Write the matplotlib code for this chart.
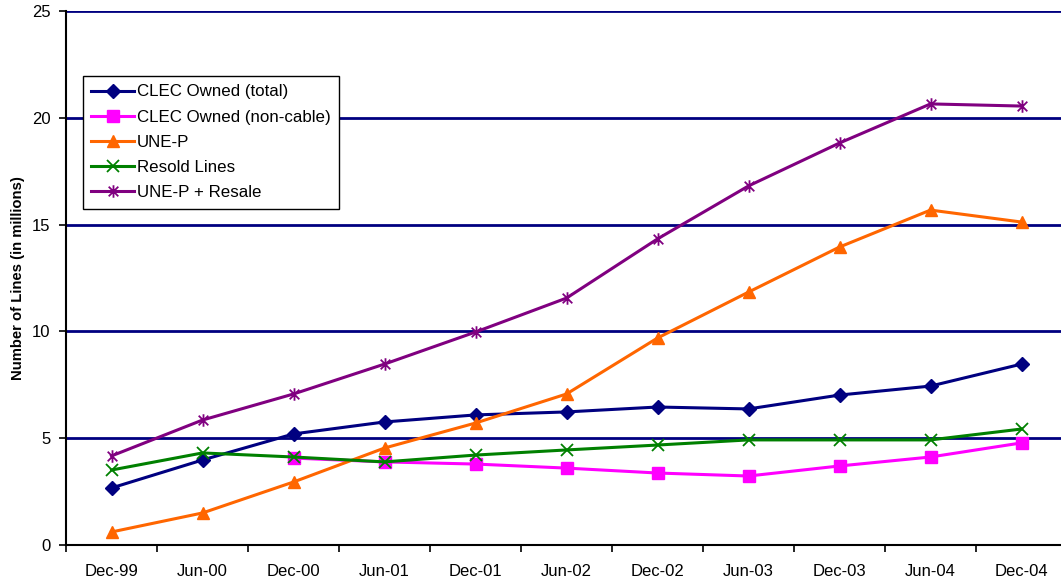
import matplotlib.pyplot as plt
from matplotlib.path import Path

plt.rcParams['font.family'] = ['Liberation Sans', 'DejaVu Sans']

periods = ['Dec-99', 'Jun-00', 'Dec-00', 'Jun-01', 'Dec-01', 'Jun-02',
           'Dec-02', 'Jun-03', 'Dec-03', 'Jun-04', 'Dec-04']

clec_total = [2.67, 3.98, 5.2, 5.76, 6.09, 6.23, 6.46, 6.37, 7.02, 7.44, 8.47]
clec_noncable = [None, None, 4.07, 3.89, 3.79, 3.6, 3.37, 3.23, 3.7, 4.12, 4.78]
une_p = [0.61, 1.5, 2.95, 4.54, 5.71, 7.07, 9.69, 11.84, 13.95, 15.68, 15.12]
resold = [3.51, 4.31, 4.12, 3.89, 4.21, 4.45, 4.68, 4.92, 4.92, 4.92, 5.43]
une_p_resale = [4.17, 5.85, 7.07, 8.47, 9.97, 11.56, 14.33, 16.81, 18.82, 20.65, 20.55]

# Excel-style star: an x with a vertical bar through it
star = Path([(-1, -1), (1, 1), (-1, 1), (1, -1), (0, -1.3), (0, 1.3)],
            [Path.MOVETO, Path.LINETO] * 3)

fig = plt.figure(figsize=(10.61, 5.83), dpi=100)
ax = fig.add_axes([66 / 1061, 1 - 545 / 583, 1001 / 1061, 534 / 583])

x = list(range(len(periods)))
x_nc = [i for i, v in zip(x, clec_noncable) if v is not None]
y_nc = [v for v in clec_noncable if v is not None]

lw = 2.2
ax.plot(x, clec_total, color='#000080', lw=lw, marker='D', ms=7, label='CLEC Owned (total)', zorder=3)
ax.plot(x_nc, y_nc, color='#FF00FF', lw=lw, marker='s', ms=8.5, label='CLEC Owned (non-cable)', zorder=3)
ax.plot(x, une_p, color='#FF6600', lw=lw, marker='^', ms=8, label='UNE-P', zorder=3)
ax.plot(x, resold, color='#008000', lw=lw, marker='x', ms=8, mew=1.3, label='Resold Lines', zorder=3)
ax.plot(x, une_p_resale, color='#800080', lw=lw, marker=star, ms=9, mew=1.3, label='UNE-P + Resale', zorder=3)

ax.set_xlim(-0.5, len(periods) - 0.5)
ax.set_ylim(0, 25)
ax.set_yticks(range(0, 26, 5))
ax.set_xticks(x)
ax.set_xticklabels(periods)
ax.set_xticks([i - 0.5 for i in range(len(periods) + 1)], minor=True)
ax.tick_params(axis='x', which='major', length=0, pad=14, labelsize=12)
ax.tick_params(axis='x', which='minor', length=5, width=1.2)
ax.tick_params(axis='y', length=5, width=1.2, labelsize=12, pad=6)

ax.yaxis.grid(True, color='#000080', lw=2)
ax.set_axisbelow(True)
for side in ('top', 'right'):
    ax.spines[side].set_visible(False)
for side in ('left', 'bottom'):
    ax.spines[side].set_linewidth(1.5)
    ax.spines[side].set_zorder(4)

ax.set_ylabel('Number of Lines (in millions)', fontsize=10.7, fontweight='bold', labelpad=5)

leg = ax.legend(loc='upper left', bbox_to_anchor=(17 / 1001, 1 - 65 / 534), borderaxespad=0,
                fancybox=False, framealpha=1, edgecolor='black', fontsize=12.2,
                handlelength=2.5, handletextpad=0.2, borderpad=0.5, labelspacing=0.6)
leg.get_frame().set_linewidth(1)

fig.savefig('out.png', dpi=100)
